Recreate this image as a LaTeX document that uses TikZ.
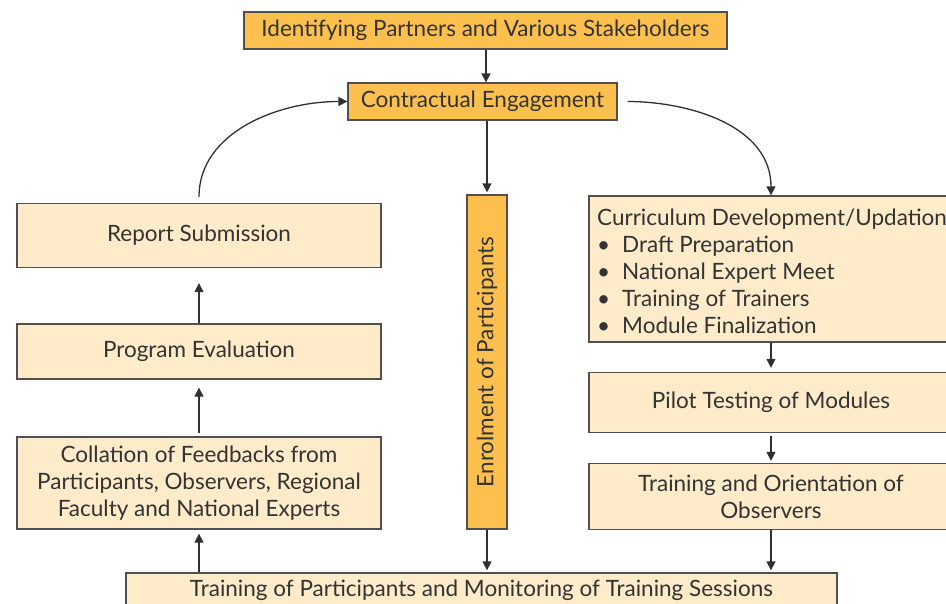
\documentclass[tikz,border=0pt]{standalone}
\usepackage{fontspec}
\setmainfont{Lato}
\usetikzlibrary{arrows.meta}
\definecolor{orangeC}{HTML}{FDC04E}
\definecolor{lightC}{HTML}{FEEBCA}
\definecolor{borderC}{HTML}{505050}
\definecolor{textC}{HTML}{333333}
\definecolor{arrowC}{HTML}{303030}
\begin{document}
\begin{tikzpicture}[x=1pt,y=1pt,
  every node/.style={font=\fontsize{22.5}{27}\selectfont, text=textC, inner sep=0pt},
  obox/.style={draw=borderC, line width=1.3pt, fill=orangeC},
  lbox/.style={draw=borderC, line width=1.3pt, fill=lightC},
  arr/.style={draw=arrowC, line width=1.3pt, -{Triangle[length=9pt,width=9pt]}}]
\useasboundingbox (0,0) rectangle (946,-603);
\clip (0,0) rectangle (946,-603);
% nodes
\node[obox, minimum width=483, minimum height=37] (top) at (485.5,-30.5) {Identifying Partners and Various Stakeholders};
\node[obox, minimum width=269, minimum height=37] (ce) at (482.5,-101.5) {Contractual Engagement};
\node[lbox, minimum width=364, minimum height=64] (rs) at (199,-235.5) {Report Submission};
\node[lbox, minimum width=364, minimum height=55] (pe) at (199,-351.5) {Program Evaluation};
\node[lbox, minimum width=364, minimum height=92, align=center] (co) at (199,-483) {Collation of Feedbacks from\\Participants, Observers, Regional\\Faculty and National Experts};
\node[obox, minimum width=40, minimum height=334] (en) at (487,-362) {};
\node[rotate=90] (enl) at (en.center) {Enrolment of Participants};
\node[lbox, minimum width=364, minimum height=146] (cd) at (771,-269) {};
\node[anchor=north west, align=left] (cdl) at (597,-209) {Curriculum Development/Updation\\
\textbullet\hspace{12pt}Draft Preparation\\
\textbullet\hspace{12pt}National Expert Meet\\
\textbullet\hspace{12pt}Training of Trainers\\
\textbullet\hspace{12pt}Module Finalization};
\node[lbox, minimum width=364, minimum height=60] (pt) at (771,-402.5) {Pilot Testing of Modules};
\node[lbox, minimum width=364, minimum height=66, align=center] (ob) at (771,-496.5) {Training and Orientation of\\Observers};
\node[lbox, minimum width=711, minimum height=34] (bt) at (481.5,-590) {Training of Participants and Monitoring of Training Sessions};
% connectors
\draw[arr] (top.south -| ce.north) ++(3.5,0) coordinate (t1) -- (t1 |- ce.north);
\draw[arr, shorten >=2pt] (ce.south -| en.north) -- (en.north);
\draw[arr, shorten <=10pt] (ce.east) to[out=0, in=90] (cd.north);
\draw[arr, shorten <=6pt] (rs.north) to[out=90, in=180] (ce.west);
\draw[arr, shorten >=15pt] (pe.north) -- (rs.south);
\draw[arr, shorten >=8pt, shorten <=3pt] (co.north) -- (pe.south);
\draw[arr, shorten >=4pt] (bt.north -| co.south) -- (co.south);
\draw[arr, shorten >=4pt] (cd.south) -- (pt.north);
\draw[arr, shorten >=2pt, shorten <=3pt] (pt.south) -- (ob.north);
\draw[arr, shorten >=2pt] (ob.south) -- (ob.south |- bt.north);
\draw[arr, shorten >=2pt] (en.south) -- (en.south |- bt.north);
\end{tikzpicture}
\end{document}
